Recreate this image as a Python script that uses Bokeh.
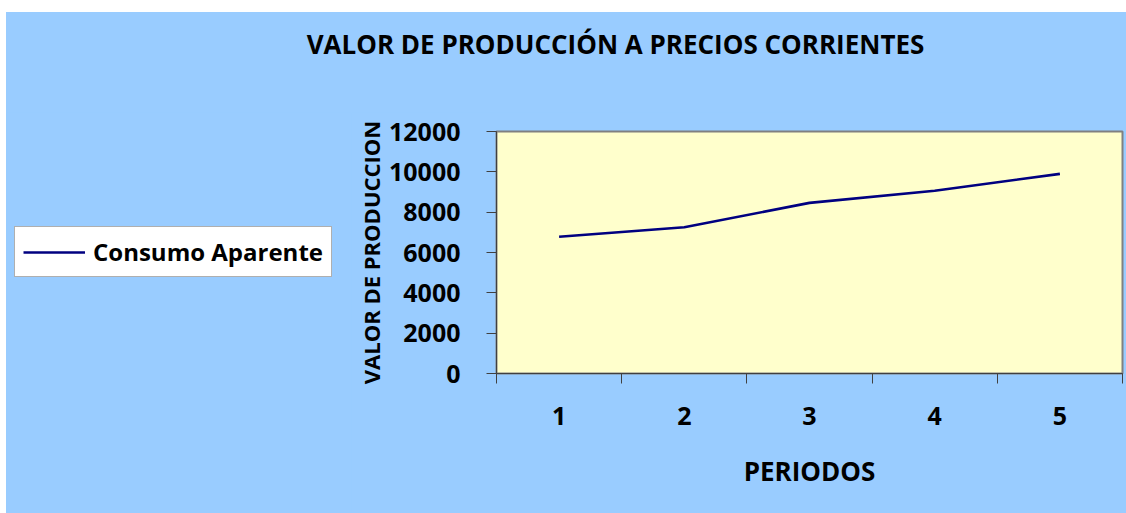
from bokeh.plotting import figure
from bokeh.models import FixedTicker, Legend, LegendItem, Label, Range1d, Spacer
from bokeh.layouts import column, row
from bokeh.embed import file_html
from bokeh.resources import INLINE

# ---- data ----
periods = [1, 2, 3, 4, 5]
period_labels = ["1", "2", "3", "4", "5"]
consumo_aparente = [6780, 7250, 8460, 9060, 9900]
y_ticks = [0, 2000, 4000, 6000, 8000, 10000, 12000]
title_text = "VALOR DE PRODUCCIÓN A PRECIOS CORRIENTES"
x_title = "PERIODOS"
y_title = "VALOR DE PRODUCCION"
series_name = "Consumo Aparente"

FONT = "Open Sans"
BG = "#99CCFF"
LINE_COLOR = "#000080"
LINE_WIDTH = 2.6

TOTAL_W = 1120
TITLE_H = 100
LEG_W = 345
BODY_H = 401


def blank_fig(width, height):
    f = figure(
        width=width, height=height, output_backend="svg", toolbar_location=None,
        x_axis_type=None, y_axis_type=None,
        x_range=Range1d(0, 0.5), y_range=Range1d(0, 0.5),
        min_border=0, min_border_left=0, min_border_right=0,
        min_border_top=0, min_border_bottom=0,
        background_fill_color=BG, background_fill_alpha=0,
        border_fill_color=BG, outline_line_color=None,
    )
    f.title = None
    f.grid.visible = False
    return f


# ---- title strip ----
pt = blank_fig(TOTAL_W, TITLE_H)
pt.add_layout(Label(
    x=609, y=68.5, x_units="screen", y_units="screen",
    text=title_text, text_align="center", text_baseline="alphabetic",
    text_font=FONT, text_font_style="bold", text_font_size="26px",
    text_color="black",
))

# ---- main chart ----
p = figure(
    width=TOTAL_W - LEG_W, height=BODY_H,
    output_backend="svg", toolbar_location=None,
    x_range=Range1d(0.5, 5.5), y_range=Range1d(0, 12000),
    min_border_left=145, min_border_right=4,
    min_border_top=19, min_border_bottom=140,
    background_fill_color="#FFFFCC", border_fill_color=BG,
    outline_line_color="#808080", outline_line_width=2,
)
p.title = None
p.xgrid.visible = False
p.ygrid.visible = False

r = p.line(periods, consumo_aparente, line_color=LINE_COLOR, line_width=LINE_WIDTH)

ya = p.yaxis[0]
ya.ticker = FixedTicker(ticks=y_ticks)
ya.major_tick_out = 10
ya.major_tick_in = 0
ya.minor_tick_out = 0
ya.minor_tick_in = 0
ya.axis_line_color = "#404040"
ya.major_tick_line_color = "#404040"
ya.major_label_standoff = 26
ya.major_label_text_font = FONT
ya.major_label_text_font_style = "bold"
ya.major_label_text_font_size = "25px"
ya.major_label_text_color = "black"
ya.axis_label = y_title
ya.axis_label_text_font = FONT
ya.axis_label_text_font_style = "bold"
ya.axis_label_text_font_size = "22px"
ya.axis_label_text_color = "black"
ya.axis_label_standoff = 0

xa = p.xaxis[0]
xa.ticker = FixedTicker(ticks=periods, minor_ticks=[k - 0.5 for k in periods] + [periods[-1] + 0.5])
xa.major_label_overrides = {k: lab for k, lab in zip(periods, period_labels)}
xa.major_tick_out = 0
xa.major_tick_in = 0
xa.minor_tick_out = 10
xa.minor_tick_in = 0
xa.minor_tick_line_color = "#404040"
xa.axis_line_color = "#404040"
xa.major_label_standoff = 23
xa.major_label_text_font = FONT
xa.major_label_text_font_style = "bold"
xa.major_label_text_font_size = "25px"
xa.major_label_text_color = "black"
xa.axis_label = x_title
xa.axis_label_text_font = FONT
xa.axis_label_text_font_style = "bold"
xa.axis_label_text_font_size = "26px"
xa.axis_label_text_color = "black"
xa.axis_label_standoff = 25

# ---- legend panel (left of the chart) ----
# the series is repeated here (outside this panel's visible range) so the
# legend swatch has a real line renderer to draw from
pl = blank_fig(LEG_W, BODY_H)
rl = pl.line(periods, consumo_aparente, line_color=LINE_COLOR, line_width=LINE_WIDTH)
legend = Legend(
    items=[LegendItem(label=series_name, renderers=[rl])],
    location=(8, 96),
    padding=8, glyph_width=62, glyph_height=24, label_standoff=8,
    label_text_font=FONT, label_text_font_style="bold",
    label_text_font_size="24px", label_text_color="black",
    border_line_color="#606060", border_line_width=1,
    background_fill_color="white", background_fill_alpha=1.0,
    margin=0,
)
pl.add_layout(legend, "center")

layout = row(
    Spacer(width=6, height=513),
    column(
        Spacer(width=TOTAL_W, height=12),
        column(
            pt,
            row(pl, p, spacing=0, styles={"background-color": BG}),
            spacing=0,
            styles={"background-color": BG},
        ),
        spacing=0,
    ),
    spacing=0,
)

open("out.html", "w").write(file_html(layout, INLINE))
